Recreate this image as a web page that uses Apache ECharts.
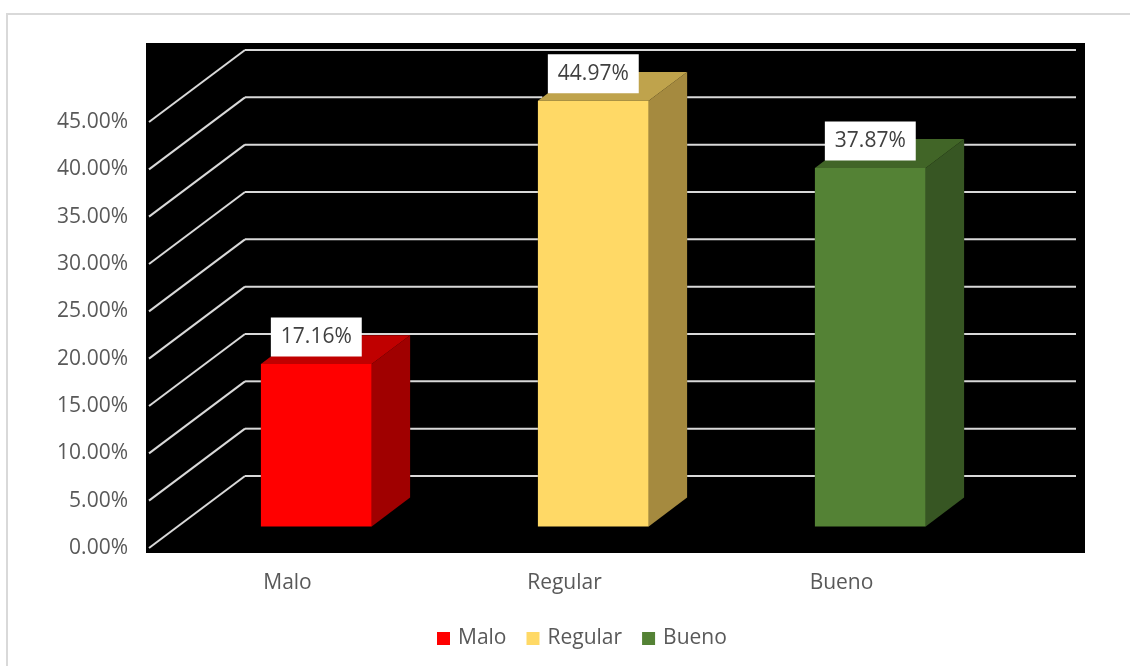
<!DOCTYPE html>
<html><head><meta charset="utf-8">
<script src="https://cdn.jsdelivr.net/npm/echarts@6/dist/echarts.min.js"></script>
<style>html,body{margin:0;padding:0;background:#fff}#c{width:1130px;height:666px}</style>
</head><body><div id="c"></div>
<script>
const categories = ['Malo', 'Regular', 'Bueno'];
const values = [17.16, 44.97, 37.87];
const yTicks = [0, 5, 10, 15, 20, 25, 30, 35, 40, 45];

const frontColors = ['#FF0000', '#FFD966', '#548235'];
const topColors = ['#C00000', '#BFA34C', '#416527'];
const sideColors = ['#A00000', '#A58A3F', '#375623'];

const DX = 96, DY = 72;           // depth offset of the back wall (px)
const FRONT = 0.3, DEPTH = 0.4, WIDTH = 0.4;
const FONT = '"Open Sans", "Liberation Sans", sans-serif';

const chart = echarts.init(document.getElementById('c'));

const barSeries = categories.map((c, i) => ({
  type: 'custom',
  name: c,
  z: 10,
  color: frontColors[i],
  data: [[i, values[i]]],
  renderItem(params, api) {
    const idx = api.value(0), v = api.value(1);
    const p0 = api.coord([idx, 0]), p1 = api.coord([idx, v]);
    const band = api.size([1, 0])[0];
    const w = band * WIDTH;
    const ox = DX * FRONT, oy = DY * FRONT, dx = DX * DEPTH, dy = DY * DEPTH;
    const xl = p0[0] - w / 2 + ox, xr = xl + w;
    const yb = p0[1] - oy, yt = p1[1] - oy;
    return {
      type: 'group',
      children: [
        {type: 'polygon', shape: {points: [[xr, yt], [xr + dx, yt - dy], [xr + dx, yb - dy], [xr, yb]]},
         style: {fill: sideColors[i]}},
        {type: 'polygon', shape: {points: [[xl, yt], [xr, yt], [xr + dx, yt - dy], [xl + dx, yt - dy]]},
         style: {fill: topColors[i]}},
        {type: 'rect', shape: {x: xl, y: yt, width: w, height: yb - yt},
         style: {fill: frontColors[i]}},
        {type: 'text', z2: 10,
         style: {x: (xl + xr) / 2, y: yt - 27, text: v.toFixed(2) + '%',
                 fill: '#404040', font: '21px ' + FONT, align: 'center', verticalAlign: 'middle',
                 backgroundColor: '#FFFFFF', padding: [9, 10]}}
      ]
    };
  }
}));

const baseGraphic = [
  {type: 'rect', z: -10, silent: true, shape: {x: 7, y: 14, width: 1200, height: 700},
   style: {fill: '#FFFFFF', stroke: '#D9D9D9', lineWidth: 2}},
  {type: 'rect', z: -5, silent: true, shape: {x: 146, y: 43, width: 939, height: 510},
   style: {fill: '#000000'}}
];

chart.setOption({
  animation: false,
  graphic: baseGraphic,
  grid: {left: 149, right: 150, top: 122, bottom: 118},
  xAxis: {
    type: 'category',
    data: categories,
    axisLine: {show: false},
    axisTick: {show: false},
    splitLine: {show: false},
    axisLabel: {color: '#595959', fontSize: 21, fontFamily: FONT, margin: 25}
  },
  yAxis: {
    type: 'value',
    min: 0, max: 45, interval: 5,
    axisLine: {show: false},
    axisTick: {show: false},
    splitLine: {show: false},
    axisLabel: {color: '#595959', fontSize: 21, fontFamily: FONT, margin: 21,
                formatter: v => v.toFixed(2) + '%'}
  },
  legend: {
    data: categories,
    left: 432, top: 623,
    icon: 'rect',
    itemWidth: 13, itemHeight: 13, itemGap: 20,
    textStyle: {color: '#595959', fontSize: 21, fontFamily: FONT, padding: [0, 0, 0, 3]}
  },
  series: barSeries
});

// Gridlines (front-left diagonal + back wall), placed through the axes' scales,
// with the back-wall parts hidden behind the bars left out.
const c0 = chart.convertToPixel({xAxisIndex: 0}, 0);
const c1 = chart.convertToPixel({xAxisIndex: 0}, 1);
const band = c1 - c0;
const x0 = c0 - band / 2;
const x1 = x0 + band * categories.length;
const yZero = chart.convertToPixel({yAxisIndex: 0}, 0);
const bdx = DX * DEPTH, bdy = DY * DEPTH;
const boxes = values.map((v, i) => {
  const cx = chart.convertToPixel({xAxisIndex: 0}, i);
  const w = band * WIDTH;
  const xl = cx - w / 2 + DX * FRONT;
  return {xl: xl, xr: xl + w,
          yt: chart.convertToPixel({yAxisIndex: 0}, v) - DY * FRONT,
          yb: yZero - DY * FRONT};
});
function covered(y, b) {
  if (y < b.yt - bdy || y > b.yb) return null;
  let a = b.xl, e = b.xr + bdx;
  if (y < b.yt) a = b.xl + (b.yt - y) / bdy * bdx;
  if (y > b.yb - bdy) e = b.xr + (b.yb - y) / bdy * bdx;
  return [a, e];
}
const lineStyle = {stroke: '#D9D9D9', lineWidth: 2, fill: null};
const lines = [];
yTicks.forEach(v => {
  const y = chart.convertToPixel({yAxisIndex: 0}, v);
  const yB = y - DY;
  lines.push({type: 'line', z: -4, silent: true,
              shape: {x1: x0, y1: y, x2: x0 + DX, y2: yB}, style: lineStyle});
  let start = x0 + DX;
  boxes.forEach(b => {
    const cov = covered(yB, b);
    if (cov) {
      if (cov[0] > start) lines.push({type: 'line', z: -4, silent: true,
        shape: {x1: start, y1: yB, x2: cov[0], y2: yB}, style: lineStyle});
      start = Math.max(start, cov[1]);
    }
  });
  lines.push({type: 'line', z: -4, silent: true,
              shape: {x1: start, y1: yB, x2: x1 + DX, y2: yB}, style: lineStyle});
});
chart.setOption({graphic: baseGraphic.concat(lines)});
</script>
</body></html>
